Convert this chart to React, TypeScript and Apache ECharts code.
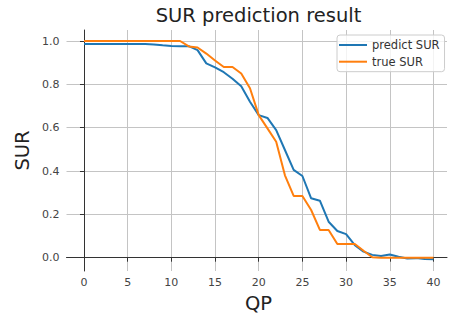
import React, { useEffect, useRef } from "react";
import * as echarts from "echarts";

const qp: number[] = Array.from({ length: 41 }, (_, i) => i);

const predictSUR: number[] = [
  0.986, 0.986, 0.986, 0.986, 0.986, 0.986, 0.986, 0.986, 0.984, 0.98,
  0.977, 0.976, 0.976, 0.958, 0.897, 0.878, 0.856, 0.826, 0.791, 0.72,
  0.658, 0.645, 0.589, 0.497, 0.405, 0.377, 0.274, 0.263, 0.166, 0.123,
  0.109, 0.058, 0.028, 0.013, 0.008, 0.015, 0.004, -0.004, -0.002, -0.006,
  -0.007,
];

const trueSUR: number[] = [
  1.0, 1.0, 1.0, 1.0, 1.0, 1.0, 1.0, 1.0, 1.0, 1.0,
  1.0, 1.0, 0.975, 0.97, 0.942, 0.91, 0.88, 0.88, 0.85, 0.782,
  0.658, 0.597, 0.535, 0.38, 0.285, 0.285, 0.22, 0.128, 0.128, 0.063,
  0.063, 0.063, 0.032, 0.002, 0.0, 0.0, 0.0, 0.0, 0.0, 0.0,
  0.0,
];

const xTicks: number[] = [0, 5, 10, 15, 20, 25, 30, 35, 40];
const yTicks: number[] = [0, 0.2, 0.4, 0.6, 0.8, 1.0];

const FONT = "DejaVu Sans";
const LINE_ICON = "path://M0,0 L28,0 L28,2 L0,2 Z";

export default function App() {
  const ref = useRef<HTMLDivElement>(null);

  useEffect(() => {
    document.body.style.margin = "0";
    if (!ref.current) return;
    const chart = echarts.init(ref.current, null, { renderer: "svg" });

    const axisCommon = {
      type: "value" as const,
      axisLine: { show: true, lineStyle: { color: "#333", width: 1 } },
      splitLine: { show: true, lineStyle: { color: "#c4c4c4", width: 1 } },
    };

    chart.setOption({
      animation: false,
      backgroundColor: "#fff",
      textStyle: { fontFamily: FONT },
      grid: { left: 66.5, right: 3, top: 30, bottom: 45, containLabel: false },
      legend: {
        orient: "vertical",
        left: 337,
        top: 35,
        data: [
          { name: "predict SUR", icon: LINE_ICON },
          { name: "true SUR", icon: LINE_ICON },
        ],
        itemWidth: 28,
        itemHeight: 12,
        itemGap: 4.7,
        padding: [4, 5, 4, 2],
        backgroundColor: "rgba(255,255,255,0.8)",
        borderColor: "#cccccc",
        borderWidth: 1,
        borderRadius: 3,
        textStyle: { fontFamily: FONT, fontSize: 11.5, color: "#333" },
      },
      xAxis: {
        ...axisCommon,
        min: -2,
        max: 41.55,
        axisTick: {
          show: true,
          length: 4,
          inside: false,
          customValues: xTicks,
          lineStyle: { color: "#333" },
        },
        axisLabel: {
          customValues: xTicks,
          color: "#444",
          fontSize: 11,
          fontFamily: FONT,
          margin: 6,
        },
      },
      yAxis: {
        ...axisCommon,
        min: -0.0614,
        max: 1.0508,
        axisTick: {
          show: true,
          length: 4,
          inside: false,
          customValues: yTicks,
          lineStyle: { color: "#333" },
        },
        axisLabel: {
          customValues: yTicks,
          color: "#444",
          fontSize: 11,
          fontFamily: FONT,
          margin: 7,
          formatter: (v: number) => v.toFixed(1),
        },
      },
      series: [
        {
          name: "predict SUR",
          type: "line",
          data: qp.map((q, i) => [q, predictSUR[i]]),
          showSymbol: false,
          symbol: "none",
          lineStyle: { color: "#1f77b4", width: 2 },
          itemStyle: { color: "#1f77b4" },
        },
        {
          name: "true SUR",
          type: "line",
          data: qp.map((q, i) => [q, trueSUR[i]]),
          showSymbol: false,
          symbol: "none",
          lineStyle: { color: "#ff7f0e", width: 2 },
          itemStyle: { color: "#ff7f0e" },
        },
      ],
      graphic: [
        {
          type: "text",
          x: 258.5,
          y: 15.5,
          style: {
            text: "SUR prediction result",
            font: `19.5px "${FONT}"`,
            fill: "#222",
            align: "center",
            verticalAlign: "middle",
          },
        },
        {
          type: "text",
          x: 258.5,
          y: 303.8,
          style: {
            text: "QP",
            font: `19.5px "${FONT}"`,
            fill: "#222",
            align: "center",
            verticalAlign: "middle",
          },
        },
        {
          type: "text",
          x: 22,
          y: 150.5,
          rotation: Math.PI / 2,
          style: {
            text: "SUR",
            font: `19.5px "${FONT}"`,
            fill: "#222",
            align: "center",
            verticalAlign: "middle",
          },
        },
      ],
    });

    return () => chart.dispose();
  }, []);

  return <div ref={ref} style={{ width: 450, height: 316 }} />;
}
